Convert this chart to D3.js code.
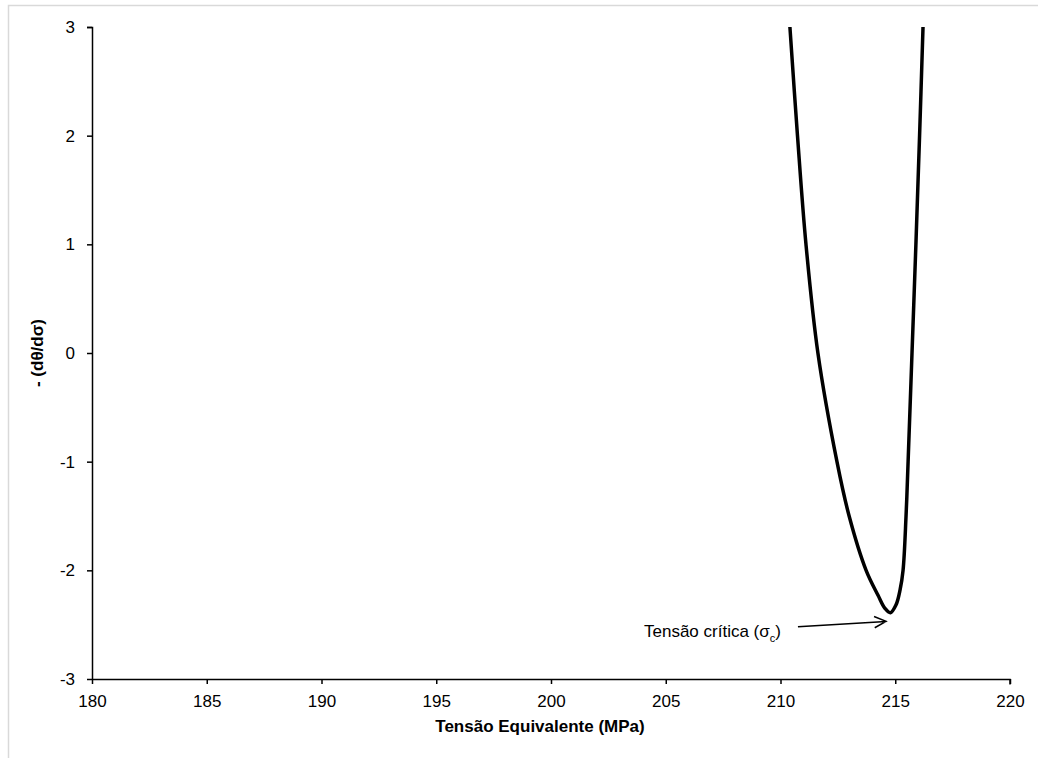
<!DOCTYPE html>
<html>
<head>
<meta charset="utf-8">
<script src="https://cdn.jsdelivr.net/npm/d3@7"></script>
<style>
  body { margin: 0; background: #fff; }
  text { font-family: Arial, "Liberation Sans", sans-serif; fill: #000; }
</style>
</head>
<body>
<svg id="chart"></svg>
<script>
// curve: stress (MPa) vs -(dtheta/dsigma)
var stress = [210.41, 210.74, 211.11, 211.63, 212.46, 212.99, 213.73, 214.25, 214.55, 214.79, 215.03, 215.21, 215.34, 215.47, 215.56, 215.73, 215.90, 216.06, 216.21];
var slope  = [3.00, 2.00, 1.00, 0.00, -1.00, -1.50, -2.00, -2.23, -2.35, -2.39, -2.32, -2.18, -2.00, -1.50, -1.00, 0.00, 1.00, 2.00, 3.00];

var xTicks = [180, 185, 190, 195, 200, 205, 210, 215, 220];
var yTicks = [-3, -2, -1, 0, 1, 2, 3];

var annot = {label: "Tensão crítica (σ", sub: "c", from: [210.76, -2.52], to: [214.6, -2.47]};

var screen = {width: 1038, height: 758};
var margins = {top: 27, right: 28, bottom: 79, left: 92};
var width = screen.width - margins.left - margins.right;
var height = screen.height - margins.top - margins.bottom;

var svg = d3.select("#chart")
    .attr("width", screen.width)
    .attr("height", screen.height);

// light frame round the chart
svg.append("rect")
    .attr("x", 8.5).attr("y", 5.5)
    .attr("width", 1100).attr("height", 800)
    .attr("fill", "none")
    .attr("stroke", "#d9d9d9")
    .attr("stroke-width", 1.5);

var g = svg.append("g")
    .attr("transform", "translate(" + margins.left + "," + margins.top + ")");

var xScale = d3.scaleLinear().domain([180, 220]).range([0, width]);
var yScale = d3.scaleLinear().domain([-3, 3]).range([height, 0]);

var fmt = function(d){ return String(d); };
var xAxis = d3.axisBottom(xScale).tickValues(xTicks).tickFormat(fmt).tickSize(5).tickPadding(11);
var yAxis = d3.axisLeft(yScale).tickValues(yTicks).tickFormat(fmt).tickSize(5).tickPadding(12);

g.append("g")
    .attr("transform", "translate(0," + height + ")")
    .call(xAxis)
    .call(function(a){
        a.select(".domain").attr("d", "M0,0.5H" + width + "V5.5").attr("stroke-width", 1.5);
        a.selectAll("text").style("font-size", "17px").attr("fill", "#000");
        a.selectAll("line").attr("stroke-width", 1.5);
    });

g.append("g")
    .call(yAxis)
    .call(function(a){
        a.select(".domain").attr("d", "M-5,0.5H0.5V" + height).attr("stroke-width", 1.5);
        a.selectAll("text").style("font-size", "17px").attr("fill", "#000");
        a.selectAll("line").attr("stroke-width", 1.5);
    });

// data curve
var pts = stress.map(function(s, i){ return [s, slope[i]]; });
var line = d3.line()
    .x(function(d){ return xScale(d[0]); })
    .y(function(d){ return yScale(d[1]); })
    .curve(d3.curveCatmullRom.alpha(0.5));

g.append("path")
    .datum(pts)
    .attr("d", line)
    .attr("fill", "none")
    .attr("stroke", "#000")
    .attr("stroke-width", 3.5)
    .attr("stroke-linejoin", "round");

// annotation arrow
var x1 = xScale(annot.from[0]), y1 = yScale(annot.from[1]);
var x2 = xScale(annot.to[0]), y2 = yScale(annot.to[1]);
var ang = Math.atan2(y2 - y1, x2 - x1);
var hl = 13, ha = 0.45;
g.append("path")
    .attr("d", "M" + x1 + "," + y1 + "L" + x2 + "," + y2 +
        "M" + (x2 - hl * Math.cos(ang - ha)) + "," + (y2 - hl * Math.sin(ang - ha)) +
        "L" + x2 + "," + y2 +
        "L" + (x2 - hl * Math.cos(ang + ha)) + "," + (y2 - hl * Math.sin(ang + ha)))
    .attr("fill", "none")
    .attr("stroke", "#000")
    .attr("stroke-width", 1.5);

var t = g.append("text")
    .attr("x", x1 - 17)
    .attr("y", y1 + 10)
    .attr("text-anchor", "end")
    .style("font-size", "17px");
t.append("tspan").text(annot.label);
t.append("tspan").attr("dy", 5).style("font-size", "11px").text(annot.sub);
t.append("tspan").attr("dy", -5).text(")");

// axis titles
svg.append("text")
    .attr("x", 540)
    .attr("y", 732)
    .attr("text-anchor", "middle")
    .style("font-size", "17px")
    .style("font-weight", "bold")
    .text("Tensão Equivalente (MPa)");

svg.append("text")
    .attr("transform", "translate(43," + (margins.top + height / 2) + ") rotate(-90)")
    .attr("text-anchor", "middle")
    .style("font-size", "17px")
    .style("font-weight", "bold")
    .text("- (dθ/dσ)");
</script>
</body>
</html>
